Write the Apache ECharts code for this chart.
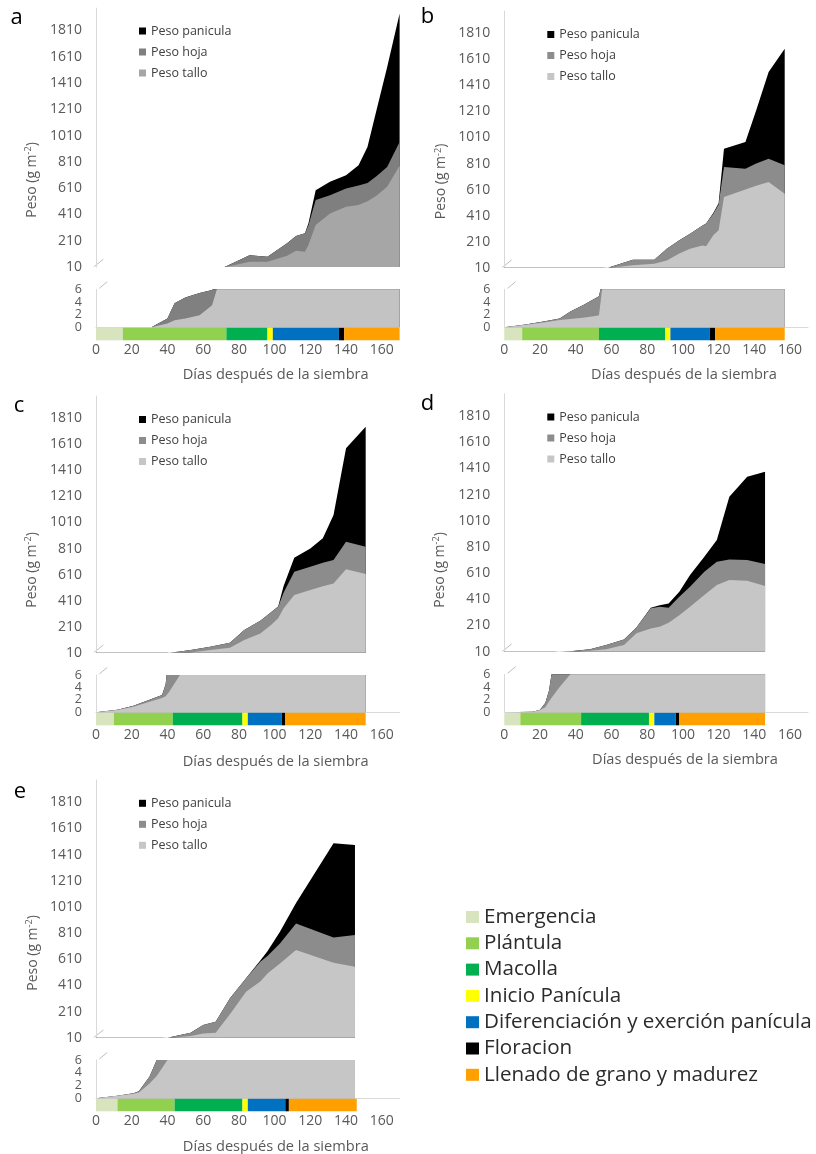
<!DOCTYPE html>
<html>
<head>
<meta charset="utf-8">
<script src="https://cdn.jsdelivr.net/npm/echarts@6/dist/echarts.min.js"></script>
<style>
  html, body { margin: 0; padding: 0; background: #ffffff; }
  #chart { width: 816px; height: 1154px; }
</style>
</head>
<body>
<div id="chart"></div>
<script>
// Accumulated dry weight (g m-2) against days after sowing, one block per site.
// Tallo = stem; HojaTop = stem + leaf; Total = stem + leaf + panicle.
const aDays    = [0, 31, 40, 44, 50, 58, 65, 68, 72, 86, 96, 107, 112, 117, 119, 123, 131, 140, 147, 152, 157, 163, 170];
const aTallo   = [0, 0, 0.6, 1.1, 1.4, 1.9, 3.5, 6.3, 8, 50, 50, 95, 134, 126, 180, 330, 418, 468, 481, 510, 553, 620, 780];
const aHojaTop = [0, 0, 1.4, 3.8, 4.7, 5.4, 5.9, 7, 10, 100, 88, 190, 245, 266, 330, 519, 557, 608, 630, 650, 700, 771, 962];
const aTotal   = [0, 0, 1.4, 3.8, 4.7, 5.4, 5.9, 7, 10, 100, 88, 190, 245, 266, 345, 595, 658, 709, 785, 923, 1202, 1531, 1940];

const bDays    = [0, 11, 22, 31, 37, 44, 51, 53, 55, 58, 72, 84, 91, 98, 104, 111, 113, 117, 120, 123, 135, 141, 148, 157];
const bTallo   = [0, 0.37, 0.74, 1.16, 1.3, 1.5, 1.8, 1.9, 6.5, 8.5, 28, 41, 66, 120, 156, 181, 174, 260, 297, 553, 610, 640, 668, 578];
const bHojaTop = [0, 0.4, 0.9, 1.4, 2.5, 3.5, 4.6, 4.9, 7.5, 10, 71, 71, 156, 220, 271, 335, 350, 425, 495, 783, 770, 810, 847, 796];
const bTotal   = [0, 0.4, 0.9, 1.4, 2.5, 3.5, 4.6, 4.9, 7.5, 10, 71, 71, 156, 220, 271, 335, 350, 430, 505, 924, 975, 1218, 1513, 1692];

const cDays    = [0, 12, 21, 30, 37, 39, 41, 47, 53, 64, 75, 83, 92, 98, 102, 105, 111, 120, 127, 133, 140, 151];
const cTallo   = [0, 0.37, 0.9, 1.7, 2.3, 2.6, 3.3, 6, 12, 30, 48, 107, 158, 222, 274, 350, 453, 491, 520, 542, 650, 614];
const cHojaTop = [0, 0.4, 1.07, 2.0, 2.8, 4.5, 10, 20, 30, 56, 87, 184, 255, 320, 363, 470, 632, 670, 700, 722, 862, 824];
const cTotal   = [0, 0.4, 1.07, 2.0, 2.8, 4.5, 10, 20, 30, 56, 87, 184, 255, 320, 365, 520, 740, 811, 888, 1067, 1580, 1746];

const dDays    = [0, 16, 20, 23, 25, 27, 31, 37, 48, 57, 67, 74, 82, 87, 92, 98, 104, 112, 119, 126, 136, 146];
const dTallo   = [0, 0.1, 0.35, 0.8, 1.7, 2.5, 4, 6, 18, 28, 61, 150, 188, 201, 232, 288, 354, 443, 519, 557, 552, 512];
const dHojaTop = [0, 0.1, 0.4, 1.5, 3.4, 7, 10, 13, 28, 61, 104, 195, 341, 354, 345, 430, 506, 621, 697, 715, 710, 680];
const dTotal   = [0, 0.1, 0.4, 1.5, 3.4, 7, 10, 13, 28, 61, 104, 195, 346, 365, 379, 468, 596, 736, 863, 1194, 1347, 1385];

const eDays    = [0, 12, 21, 24, 30, 34, 40, 53, 60, 67, 75, 84, 92, 96, 103, 112, 133, 145];
const eTallo   = [0, 0.4, 0.7, 0.9, 2.3, 3.5, 6, 23, 43, 48, 190, 362, 440, 500, 578, 680, 583, 553];
const eHojaTop = [0, 0.4, 0.8, 1.1, 3.4, 6, 10, 48, 107, 132, 311, 464, 590, 634, 730, 884, 777, 795];
const eTotal   = [0, 0.4, 0.8, 1.1, 3.4, 6, 10, 48, 107, 132, 311, 464, 600, 672, 820, 1040, 1496, 1483];

// Phenological phase limits (days after sowing) for each site
const phaseNames = ['Emergencia', 'Plántula', 'Macolla', 'Inicio Panícula',
                    'Diferenciación y exerción panícula', 'Floracion', 'Llenado de grano y madurez'];
const aPhase = [0, 15, 73, 96, 99, 136, 139, 170];
const bPhase = [0, 10, 53, 90, 93, 115, 118, 157];
const cPhase = [0, 10, 43, 82, 85, 104, 106, 151];
const dPhase = [0, 9, 43, 81, 84, 96, 98, 146];
const ePhase = [0, 12, 44, 82, 85, 106, 108, 146];

// Tick labels (the 0–6 axis labels are split over two axes so none get dropped)
const yTicksUpper = [10, 210, 410, 610, 810, 1010, 1210, 1410, 1610, 1810];
const yTicksLowerA = [0, 4];
const yTicksLowerB = [2, 6];
const xTicks = [0, 20, 40, 60, 80, 100, 120, 140, 160];

const phaseColors = ['#d7e4bd', '#92d050', '#00b050', '#ffff00', '#0070c0', '#000000', '#ff9f00'];
const FONT = "'Open Sans', 'DejaVu Sans', sans-serif";
const X_MAX = 170;
const Y_MAX = 1980;
const PX_PER_DAY = 1.786;
const AXIS_GREY = '#d9d9d9';
const LABEL_GREY = '#595959';
const plain = function (v) { return String(v); };

const panels = [
  { id: 'a', days: aDays, tallo: aTallo, hojaTop: aHojaTop, total: aTotal, phase: aPhase,
    x0: 96, y10: 267, y1810: 30.5, l0: 327.3, l6: 289.3, legendY: 30,
    letter: [16.5, 17.5], yTitle: [32, 180], xTitle: [275.7, 375],
    stem: '#a6a6a6', leaf: '#7f7f7f', stemLow: '#c3c3c3', leafLow: '#808080' },
  { id: 'b', days: bDays, tallo: bTallo, hojaTop: bHojaTop, total: bTotal, phase: bPhase,
    x0: 504.3, y10: 267.7, y1810: 33.3, l0: 327.3, l6: 289.3, legendY: 33.5,
    letter: [427.5, 16.5], yTitle: [441.5, 181.5], xTitle: [684, 375],
    stem: '#c6c6c6', leaf: '#8c8c8c', stemLow: '#c6c6c6', leafLow: '#8c8c8c' },
  { id: 'c', days: cDays, tallo: cTallo, hojaTop: cHojaTop, total: cTotal, phase: cPhase,
    x0: 96, y10: 652.7, y1810: 418.3, l0: 712.3, l6: 675, legendY: 418.5,
    letter: [19, 406], yTitle: [31.7, 570], xTitle: [275.7, 761.5],
    stem: '#c6c6c6', leaf: '#8c8c8c', stemLow: '#c6c6c6', leafLow: '#8c8c8c' },
  { id: 'd', days: dDays, tallo: dTallo, hojaTop: dHojaTop, total: dTotal, phase: dPhase,
    x0: 504.3, y10: 651.7, y1810: 416, l0: 712.3, l6: 674.3, legendY: 416,
    letter: [427.5, 403.5], yTitle: [440, 570], xTitle: [685, 760],
    stem: '#c6c6c6', leaf: '#8c8c8c', stemLow: '#c6c6c6', leafLow: '#8c8c8c' },
  { id: 'e', days: eDays, tallo: eTallo, hojaTop: eHojaTop, total: eTotal, phase: ePhase,
    x0: 96, y10: 1037.7, y1810: 802.3, l0: 1098.3, l6: 1060, legendY: 802.3,
    letter: [20, 791.5], yTitle: [33, 953], xTitle: [275.8, 1146.5],
    stem: '#c6c6c6', leaf: '#8c8c8c', stemLow: '#c6c6c6', leafLow: '#8c8c8c' }
];

const grids = [], xAxes = [], yAxes = [], series = [], legends = [], graphics = [];
const width = X_MAX * PX_PER_DAY;
const valueLabel = { formatter: plain, margin: 14, fontSize: 12.5,
  color: LABEL_GREY, fontFamily: FONT, showMinLabel: true, showMaxLabel: true };

panels.forEach(function (p) {
  const s = (p.y10 - p.y1810) / 1800;
  const upTop = p.y10 - (Y_MAX - 10) * s;
  const g = grids.length;

  // upper (10 – max), lower (0 – 6) and phase strip
  grids.push({ left: p.x0, top: upTop, width: width, height: p.y10 - upTop });
  grids.push({ left: p.x0, top: p.l6, width: width, height: p.l0 - p.l6 });
  grids.push({ left: p.x0, top: p.l0 + 0.5, width: width, height: 12.5 });

  xAxes.push({ gridIndex: g, type: 'value', min: 0, max: X_MAX, show: false });
  xAxes.push({ gridIndex: g + 1, type: 'value', min: 0, max: X_MAX,
    axisLine: { show: true, lineStyle: { color: AXIS_GREY, width: 1 } },
    axisTick: { show: false }, axisLabel: { show: false }, splitLine: { show: false } });
  xAxes.push({ gridIndex: g + 2, type: 'value', min: 0, max: X_MAX,
    axisLine: { show: false }, axisTick: { show: false }, splitLine: { show: false },
    axisLabel: { customValues: xTicks, formatter: plain, margin: 3, fontSize: 14,
      color: LABEL_GREY, fontFamily: FONT, showMinLabel: true, showMaxLabel: true } });

  yAxes.push({ gridIndex: g, type: 'value', min: 10, max: Y_MAX,
    axisLine: { show: true, lineStyle: { color: AXIS_GREY, width: 1 } },
    axisTick: { show: false }, splitLine: { show: false },
    axisLabel: Object.assign({}, valueLabel, { customValues: yTicksUpper, fontSize: 14 }) });
  yAxes.push({ gridIndex: g + 1, type: 'value', min: 0, max: 6,
    axisLine: { show: true, lineStyle: { color: AXIS_GREY, width: 1 } },
    axisTick: { show: false }, splitLine: { show: false },
    axisLabel: Object.assign({}, valueLabel, { customValues: yTicksLowerA }) });
  yAxes.push({ gridIndex: g + 2, type: 'category', data: ['fase'], show: false });

  // layered areas: total (panicle on top), stem + leaf, stem
  [0, 1].forEach(function (part) {
    const layers = [
      ['Peso panicula', p.total, '#000000'],
      ['Peso hoja', p.hojaTop, part === 0 ? p.leaf : p.leafLow],
      ['Peso tallo', p.tallo, part === 0 ? p.stem : p.stemLow]
    ];
    layers.forEach(function (c) {
      series.push({
        type: 'line', name: c[0], xAxisIndex: g + part, yAxisIndex: g + part,
        clip: true, silent: true, symbol: 'none', showSymbol: false,
        lineStyle: { width: 0, color: c[2] },
        itemStyle: { color: c[2] },
        areaStyle: { color: c[2], opacity: 1 },
        data: p.days.map(function (d, i) { return [d, c[1][i]]; })
      });
    });
  });

  // phase strip
  phaseNames.forEach(function (name, j) {
    series.push({
      type: 'bar', name: name, xAxisIndex: g + 2, yAxisIndex: g + 2,
      stack: p.id + '-phase', barWidth: '100%', silent: true,
      itemStyle: { color: phaseColors[j] },
      data: [p.phase[j + 1] - p.phase[j]]
    });
  });

  legends.push({
    orient: 'vertical', left: p.x0 + 43, top: p.legendY - 6, padding: 0,
    icon: 'rect', itemWidth: 7, itemHeight: 7, itemGap: 7, selectedMode: false,
    textStyle: { fontSize: 12.5, lineHeight: 14, color: '#404040', fontFamily: FONT },
    data: [
      { name: 'Peso panicula', itemStyle: { color: '#000000' } },
      { name: 'Peso hoja', itemStyle: { color: p.leaf } },
      { name: 'Peso tallo', itemStyle: { color: p.stem } }
    ]
  });

  graphics.push({ type: 'text', x: p.letter[0], y: p.letter[1], silent: true,
    style: { text: p.id, fill: '#000000', fontSize: 22, fontFamily: FONT,
      textAlign: 'center', textVerticalAlign: 'middle', align: 'center', verticalAlign: 'middle' } });
  graphics.push({ type: 'text', x: p.yTitle[0], y: p.yTitle[1], rotation: Math.PI / 2, silent: true,
    style: { text: 'Peso (g m{sup|-2})', fill: LABEL_GREY, fontSize: 14, lineHeight: 16, fontFamily: FONT,
      textAlign: 'center', textVerticalAlign: 'middle', align: 'center', verticalAlign: 'middle',
      rich: { sup: { fontSize: 9, lineHeight: 9, verticalAlign: 'top', fill: LABEL_GREY, fontFamily: FONT } } } });
  graphics.push({ type: 'text', x: p.xTitle[0], y: p.xTitle[1], silent: true,
    style: { text: 'Días después de la siembra', fill: LABEL_GREY, fontSize: 14.6, fontFamily: FONT,
      textAlign: 'center', textVerticalAlign: 'middle', align: 'center', verticalAlign: 'middle' } });
  // axis break marks
  graphics.push({ type: 'line', silent: true,
    shape: { x1: p.x0 - 2, y1: p.y10 - 0.3, x2: p.x0 + 7.3, y2: p.y10 - 7.7 },
    style: { stroke: '#bfbfbf', lineWidth: 1 } });
  graphics.push({ type: 'line', silent: true,
    shape: { x1: p.x0 + 3.3, y1: p.l6 - 1, x2: p.x0 + 11.3, y2: p.l6 - 7.6 },
    style: { stroke: '#bfbfbf', lineWidth: 1 } });
});

// second label-only axis on each lower grid for the remaining ticks
panels.forEach(function (p, k) {
  yAxes.push({ gridIndex: k * 3 + 1, type: 'value', min: 0, max: 6, position: 'left', offset: 0,
    axisLine: { show: false }, axisTick: { show: false }, splitLine: { show: false },
    axisLabel: Object.assign({}, valueLabel, { customValues: yTicksLowerB }) });
});

// phase colour key
legends.push({
  orient: 'vertical', left: 466, top: 906, padding: 0,
  icon: 'rect', itemWidth: 13, itemHeight: 12, itemGap: 4.3, selectedMode: false,
  textStyle: { fontSize: 20.6, lineHeight: 22, color: '#2b2b2b', fontFamily: FONT },
  data: phaseNames.map(function (n, j) { return { name: n, itemStyle: { color: phaseColors[j] } }; })
});

const chart = echarts.init(document.getElementById('chart'), null, { renderer: 'canvas' });
chart.setOption({
  backgroundColor: '#ffffff',
  animation: false,
  textStyle: { fontFamily: FONT },
  grid: grids,
  xAxis: xAxes,
  yAxis: yAxes,
  legend: legends,
  series: series,
  graphic: graphics
});
</script>
</body>
</html>
